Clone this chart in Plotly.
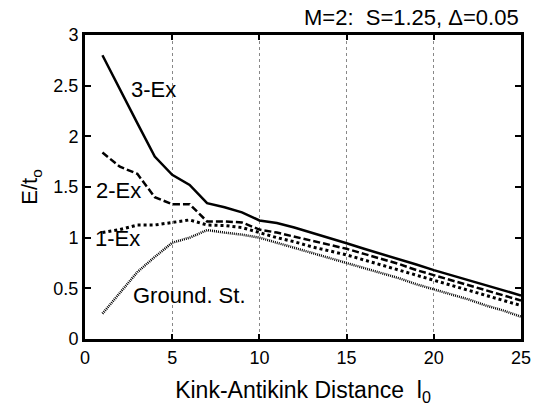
import plotly.graph_objects as go

# ---- data ----
distance = list(range(1, 26))
ex3 = [2.80, 2.46, 2.13, 1.80, 1.62, 1.52, 1.34, 1.30, 1.25, 1.17, 1.145, 1.10, 1.05,
       1.00, 0.945, 0.89, 0.84, 0.785, 0.735, 0.68, 0.63, 0.58, 0.53, 0.48, 0.43]
ex2 = [1.84, 1.70, 1.63, 1.40, 1.33, 1.33, 1.16, 1.16, 1.15, 1.08, 1.05, 1.01, 0.97,
       0.93, 0.89, 0.84, 0.79, 0.74, 0.68, 0.63, 0.58, 0.53, 0.48, 0.43, 0.38]
ex1 = [1.05, 1.08, 1.125, 1.125, 1.15, 1.175, 1.125, 1.12, 1.10, 1.05, 1.00, 0.96, 0.91,
       0.87, 0.83, 0.78, 0.73, 0.68, 0.63, 0.58, 0.53, 0.48, 0.43, 0.38, 0.33]
ground = [0.25, 0.45, 0.66, 0.81, 0.95, 1.00, 1.075, 1.05, 1.03, 1.00, 0.95, 0.90, 0.85,
          0.80, 0.75, 0.70, 0.65, 0.60, 0.54, 0.49, 0.44, 0.39, 0.33, 0.28, 0.22]

labels = ["3-Ex", "2-Ex", "1-Ex", "Ground. St."]
label_x = [3.93, 1.91, 1.86, 6.02]
label_y = [2.46, 1.47, 0.99, 0.43]
x_ticks = [0, 5, 10, 15, 20, 25]
y_ticks = [0, 0.5, 1, 1.5, 2, 2.5, 3]
y_tick_text = ["0", "0.5", "1", "1.5", "2", "2.5", "3"]

FONT = "Liberation Sans, Arial, Helvetica, sans-serif"

fig = go.Figure()
fig.add_trace(go.Scatter(x=distance, y=ground, mode="lines",
                         line=dict(color="black", width=2.5, dash="1px,1px")))
fig.add_trace(go.Scatter(x=distance, y=ex1, mode="lines",
                         line=dict(color="black", width=3, dash="3px,3px")))
fig.add_trace(go.Scatter(x=distance, y=ex2, mode="lines",
                         line=dict(color="black", width=2.5, dash="7px,3px")))
fig.add_trace(go.Scatter(x=distance, y=ex3, mode="lines",
                         line=dict(color="black", width=2.5)))

for t, lx, ly in zip(labels, label_x, label_y):
    fig.add_annotation(x=lx, y=ly, xref="x", yref="y", text=t, showarrow=False,
                       font=dict(family=FONT, size=22, color="black"),
                       xanchor="center", yanchor="middle")

fig.add_annotation(x=1, y=1.0576, xref="paper", yref="paper",
                   text="M=2:  S=1.25, \u0394=0.05", showarrow=False,
                   font=dict(family=FONT, size=22, color="black"),
                   xanchor="right", yanchor="middle")

fig.update_layout(
    width=537, height=407,
    margin=dict(l=85, r=16, t=35, b=68),
    paper_bgcolor="white", plot_bgcolor="white",
    showlegend=False,
    font=dict(family=FONT, color="black"),
    xaxis=dict(range=[0, 25], tickvals=x_ticks, ticks="inside", ticklen=5,
               tickwidth=1.5, tickcolor="black", showline=True, linewidth=3,
               linecolor="black", mirror="ticks", showgrid=True,
               gridcolor="#888888", gridwidth=1, griddash="dot",
               zeroline=False, tickfont=dict(size=18), automargin=False,
               title=dict(text="Kink-Antikink Distance  l<sub>0</sub>",
                          font=dict(size=23), standoff=16)),
    yaxis=dict(range=[0, 3], tickvals=y_ticks, ticktext=y_tick_text,
               ticks="inside", ticklen=6, tickwidth=1.5, tickcolor="black",
               showline=True, linewidth=3, linecolor="black", mirror="ticks",
               showgrid=False, zeroline=False, tickfont=dict(size=18),
               automargin=False,
               title=dict(text="E/t<sub>o</sub>", font=dict(size=22), standoff=10)),
)

fig.write_html("out.html")
